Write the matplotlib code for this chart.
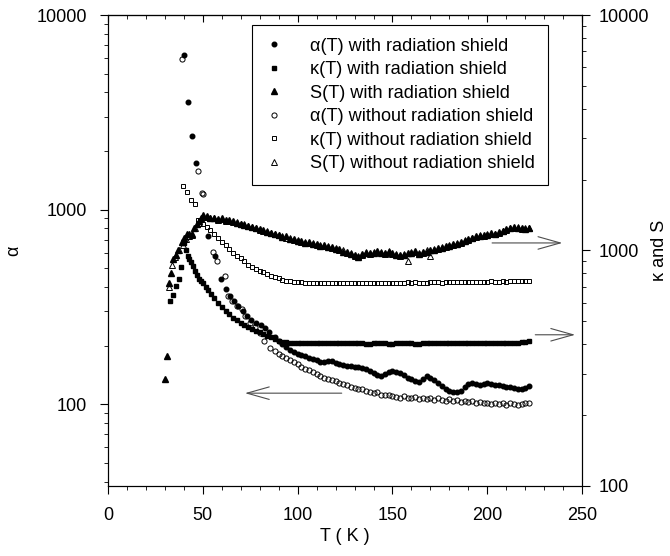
import matplotlib
matplotlib.use('Agg')
import matplotlib.pyplot as plt
from matplotlib.ticker import FixedLocator, LogLocator, NullFormatter, MultipleLocator

plt.rcParams['font.family'] = ['Liberation Sans', 'DejaVu Sans']

# temperature grid of the flat part (K)
t_main = [90, 92, 94, 96, 98, 100, 102, 104, 106, 108, 110, 112, 114, 116, 118, 120,
          122, 124, 126, 128, 130, 132, 134, 136, 138, 140, 142, 144, 146, 148, 150,
          152, 154, 156, 158, 160, 162, 164, 166, 168, 170, 172, 174, 176, 178, 180,
          182, 184, 186, 188, 190, 192, 194, 196, 198, 200, 202, 204, 206, 208, 210,
          212, 214, 216, 218, 220, 222]

# alpha(T) with radiation shield (left axis)
T_a_ws = [40.1, 42, 44.1, 46.6, 52.9, 56.4, 59.5, 62, 64.3, 66.5, 68.7, 71, 73.2, 75.5,
          78, 80.5, 82.8, 85, 88] + t_main
a_ws = [6240, 3590, 2390, 1730, 729, 577, 440, 390, 359, 338, 319, 300, 284, 270,
        262, 255, 247, 236, 222,
        212, 203, 196, 190, 186, 182, 179, 176, 173, 170,
        168, 165, 164, 166, 166, 163, 161, 159, 158, 157,
        156, 155, 154, 151, 148, 145, 141, 140, 143, 146,
        148, 147, 145, 141, 137, 134, 132, 130, 134, 139,
        137, 133, 128, 124, 120, 117, 116, 115, 117, 122,
        127, 128, 127, 126, 127, 128, 127, 126, 125, 124,
        123, 122, 121, 120, 120, 121, 124]

# kappa(T) with radiation shield (right axis)
T_k_ws = [33, 34.5, 36, 37.5, 38.5, 40, 41, 42, 43, 44, 45, 46, 47, 48, 49, 50, 51.5,
          53, 54.5, 56, 58, 60, 62, 64, 66, 68, 70, 72, 74, 76, 78, 80, 82, 84, 86,
          88] + t_main
k_ws = [612, 650, 709, 760, 850, 1072, 1000, 952, 920, 890, 855, 822, 790, 760, 740,
        725, 700, 677, 655, 631, 600, 578, 555, 535, 518, 505, 494, 484, 474, 465,
        457, 450, 442, 435, 428, 420,
        414, 410, 408, 406, 405, 405, 404, 406, 405, 404,
        405, 406, 405, 404, 403, 405, 404, 405, 406, 405,
        404, 403, 404, 402, 401, 403, 404, 405, 403, 402,
        401, 403, 404, 405, 404, 403, 402, 401, 403, 404,
        405, 404, 403, 404, 405, 404, 403, 404, 405, 406,
        405, 404, 403, 404, 405, 404, 403, 404, 405, 406,
        405, 404, 403, 405, 407, 410, 414]

# S(T) with radiation shield (right axis)
T_s_ws = [30, 31, 32.3, 33.1, 34.5, 36, 37, 38.9, 40, 41.8, 43, 44.1, 45.5, 47, 48,
          49, 50.3, 52, 54, 56, 58, 60, 62, 64, 66, 68, 70, 72, 74, 76, 78, 80, 82,
          84, 86, 88] + t_main
s_ws = [285, 357, 729, 800, 923, 960, 1000, 1084, 1130, 1178, 1170, 1178, 1250, 1300,
        1340, 1380, 1409, 1400, 1380, 1370, 1360, 1375, 1350, 1343, 1330, 1310, 1300,
        1285, 1270, 1260, 1240, 1230, 1216, 1200, 1190, 1175,
        1165, 1140, 1150, 1120, 1115, 1095, 1100, 1080, 1085, 1065,
        1065, 1045, 1050, 1030, 1035, 1010, 1010, 990, 990, 965,
        955, 935, 965, 975, 980, 980, 995, 975, 980, 985,
        975, 955, 955, 960, 980, 980, 995, 970, 990, 990,
        1005, 1000, 1020, 1020, 1040, 1040, 1065, 1065, 1090, 1095,
        1120, 1125, 1150, 1150, 1165, 1165, 1185, 1170, 1195, 1205,
        1235, 1240, 1260, 1245, 1245, 1230, 1250]

# alpha(T) without radiation shield (left axis)
T_a_wo = [39, 47.3, 49.4, 50.2, 55.5, 57.7, 61.7, 63.4, 65.5, 67.9, 70.5, 72.5, 74.9,
          77.5, 80.2, 82.5, 85.4, 88] + t_main
a_wo = [5930, 1585, 1213, 1200, 604, 543, 455, 359, 340, 319, 307, 285, 262, 248,
        233, 212, 195, 188,
        182, 176, 172, 168, 164, 160, 155, 152, 149, 146,
        143, 140, 137, 135, 133, 131, 129, 127, 125, 123,
        121, 120, 119, 117, 116, 114, 115, 112, 111, 112,
        110, 109, 108, 110, 108, 107, 109, 106, 108, 106,
        107, 105, 107, 105, 104, 106, 104, 105, 103, 104,
        103, 104, 102, 103, 101, 102, 100, 101, 100, 101,
        99, 101, 100, 99, 100, 101, 102]

# kappa(T) without radiation shield (right axis)
T_k_wo = [39.7, 41.8, 43.8, 45.9, 47.6, 48.5, 50, 52, 54, 56, 58, 60, 62, 64, 66, 68,
          70, 72, 74, 76, 78, 80, 82, 84, 86, 88] + t_main
k_wo = [1871, 1763, 1645, 1581, 1352, 1343, 1300, 1260, 1225, 1180, 1130, 1090, 1050,
        1015, 975, 950, 925, 900, 870, 850, 835, 820, 808, 795, 782, 772,
        762, 752, 745, 740, 736, 734, 732, 731, 730, 729,
        730, 728, 729, 730, 728, 727, 729, 730, 728, 727,
        728, 729, 727, 726, 728, 730, 729, 727, 728, 730,
        731, 729, 728, 730, 732, 731, 733, 730, 729, 731,
        733, 732, 734, 731, 733, 735, 734, 736, 733, 735,
        737, 735, 736, 738, 736, 737, 739, 737, 738, 740,
        738, 739, 741, 740, 742, 741, 742]

# S(T) without radiation shield (right axis)
T_s_wo = [32, 34, 35.5, 37.5, 39.5, 41, 43, 44.5, 46, 48, 50, 52, 54, 56, 58, 60, 62,
          64, 66, 68, 70, 72, 74, 76, 78, 80, 82, 84, 86, 88] + t_main
s_wo = [700, 870, 940, 1000, 1060, 1120, 1150, 1160, 1240, 1310, 1390, 1390, 1370,
        1380, 1350, 1360, 1340, 1335, 1320, 1315, 1290, 1290, 1265, 1255, 1245, 1225,
        1210, 1205, 1185, 1170,
        1160, 1150, 1135, 1130, 1105, 1105, 1090, 1090, 1075, 1075,
        1055, 1055, 1040, 1040, 1025, 1020, 1000, 1000, 980, 975,
        945, 950, 955, 985, 970, 990, 985, 985, 970, 995,
        965, 965, 945, 970, 905, 990, 985, 980, 980, 1000,
        950, 1010, 1010, 1030, 1030, 1050, 1055, 1075, 1080, 1105,
        1110, 1135, 1140, 1160, 1155, 1175, 1175, 1180, 1185, 1215,
        1225, 1250, 1250, 1255, 1235, 1240, 1240]

labels = ['\u03b1(T) with radiation shield',
          '\u03ba(T) with radiation shield',
          'S(T) with radiation shield',
          '\u03b1(T) without radiation shield',
          '\u03ba(T) without radiation shield',
          'S(T) without radiation shield']

fig = plt.figure(figsize=(6.7, 5.56), dpi=100)
ax = fig.add_axes([0.161, 0.126, 0.708, 0.847])
ax2 = ax.twinx()

# left axis: alpha
h1, = ax.plot(T_a_ws, a_ws, 'o', color='black', ms=3.3, ls='none')
h4, = ax.plot(T_a_wo, a_wo, 'o', mfc='none', mec='black', mew=0.7, ms=3.7, ls='none')
# right axis: kappa and S
h2, = ax2.plot(T_k_ws, k_ws, 's', color='black', ms=3.1, ls='none')
h3, = ax2.plot(T_s_ws, s_ws, '^', color='black', ms=3.9, ls='none')
h5, = ax2.plot(T_k_wo, k_wo, 's', mfc='none', mec='black', mew=0.7, ms=3.5, ls='none')
h6, = ax2.plot(T_s_wo, s_wo, '^', mfc='none', mec='black', mew=0.7, ms=3.9, ls='none')

ax.set_xlim(0, 250)
ax.set_yscale('log')
ax.set_ylim(38, 10000)
ax2.set_yscale('log')
ax2.set_ylim(100, 10000)

for a in (ax, ax2):
    a.yaxis.set_major_locator(FixedLocator([100, 1000, 10000]))
    a.yaxis.set_minor_locator(LogLocator(base=10, subs=(2, 3, 4, 5, 6, 7, 8, 9)))
    a.yaxis.set_minor_formatter(NullFormatter())
    a.set_yticklabels(['100', '1000', '10000'])
    for sp in a.spines.values():
        sp.set_linewidth(0.8)

ax.xaxis.set_major_locator(MultipleLocator(50))
ax.xaxis.set_minor_locator(MultipleLocator(10))
ax.tick_params(axis='x', which='major', direction='out', length=6, width=0.8,
               labelsize=13, pad=9)
ax.tick_params(axis='x', which='minor', direction='out', length=3, width=0.6)
ax.tick_params(axis='y', which='major', direction='out', length=6, width=0.8,
               labelsize=13, pad=9)
ax.tick_params(axis='y', which='minor', direction='out', length=3, width=0.6)
ax2.tick_params(axis='y', which='major', direction='out', length=6, width=0.8,
                labelsize=13, pad=6)
ax2.tick_params(axis='y', which='minor', direction='out', length=3, width=0.6)

top = ax.secondary_xaxis('top')
top.xaxis.set_major_locator(MultipleLocator(50))
top.xaxis.set_minor_locator(MultipleLocator(10))
top.tick_params(which='major', direction='in', length=5, width=0.8, labeltop=False)
top.tick_params(which='minor', direction='in', length=3, width=0.6)
top.spines['top'].set_linewidth(0.8)

ax.set_xlabel('T ( K )', fontsize=13, labelpad=3)
ax.set_ylabel('\u03b1', fontsize=13, labelpad=10)
ax2.set_ylabel('\u03ba and S', fontsize=13, labelpad=1)

# arrows showing which axis each group belongs to
arrow = dict(arrowstyle='->,head_length=1.6,head_width=0.45', color='0.3', lw=0.8,
             shrinkA=0, shrinkB=0, mutation_scale=10)
ax2.annotate('', xy=(0.958, 0.516), xytext=(0.810, 0.516), xycoords='axes fraction',
             arrowprops=arrow)
ax2.annotate('', xy=(0.985, 0.321), xytext=(0.901, 0.321), xycoords='axes fraction',
             arrowprops=arrow)
ax2.annotate('', xy=(0.289, 0.197), xytext=(0.493, 0.197), xycoords='axes fraction',
             arrowprops=arrow)

leg = ax2.legend([h1, h2, h3, h4, h5, h6], labels, loc='upper left',
                 bbox_to_anchor=(0.304, 0.979), fontsize=13.1, frameon=True,
                 fancybox=False, edgecolor='black', framealpha=1,
                 labelspacing=0.36, handlelength=1.0, handletextpad=1.5,
                 borderpad=0.7, borderaxespad=0)
leg.get_frame().set_linewidth(0.8)

fig.savefig('out.png', dpi=100)
